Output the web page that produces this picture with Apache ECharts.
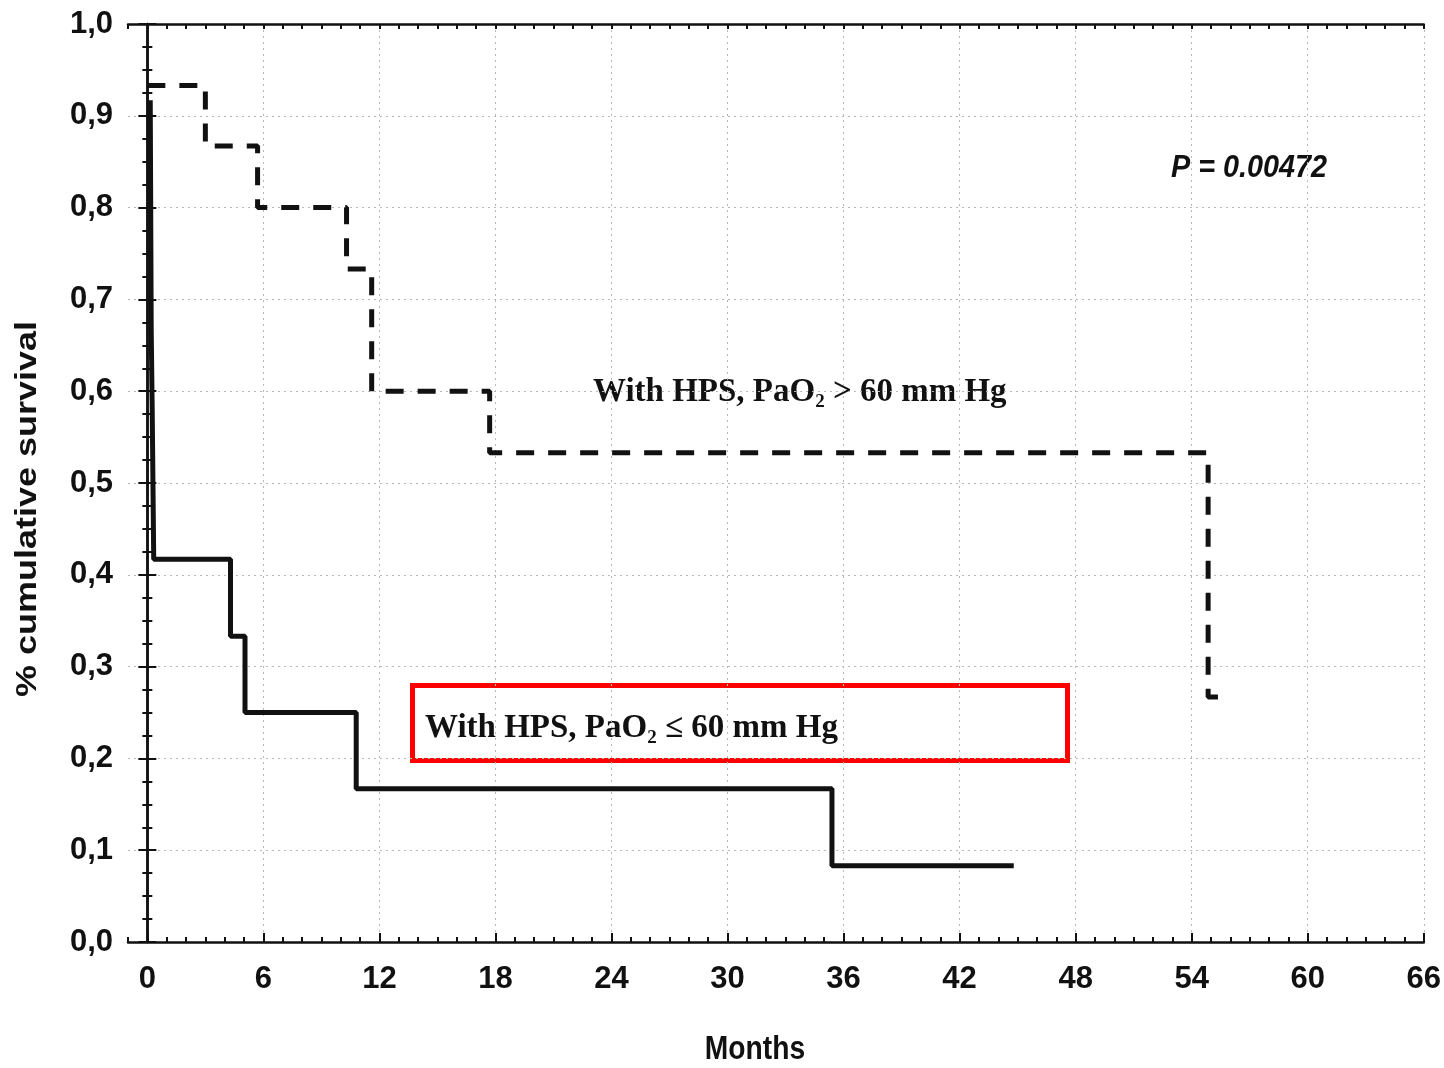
<!DOCTYPE html>
<html><head><meta charset="utf-8">
<script src="https://cdn.jsdelivr.net/npm/echarts@6/dist/echarts.min.js"></script>
<style>html,body{margin:0;padding:0;background:#fff}#c{width:1444px;height:1068px}</style>
</head><body><div id="c"></div><script>
// ---- data ----
const xTicks = [0, 6, 12, 18, 24, 30, 36, 42, 48, 54, 60, 66];
const yTicks = [0, 0.1, 0.2, 0.3, 0.4, 0.5, 0.6, 0.7, 0.8, 0.9, 1.0];
// PaO2 <= 60 mm Hg (solid) : survival holds from month[i] to month[i+1]
const lowMonths   = [0.15, 0.2, 0.25, 0.33, 4.3, 5.05, 10.8, 35.4, 44.8];
const lowSurvival = [0.917, 0.667, 0.583, 0.417, 0.333, 0.25, 0.167, 0.083, 0.083];
// PaO2 > 60 mm Hg (dashed)
const highMonths   = [0, 3.0, 5.7, 10.3, 11.6, 17.7, 54.85, 55.5];
const highSurvival = [0.933, 0.867, 0.8, 0.733, 0.6, 0.533, 0.267, 0.267];
const pText = 'P = 0.00472';
const highLabel = 'With HPS, PaO{s|2} > 60 mm Hg';
const lowLabel = 'With HPS, PaO{s|2} \u2264 60 mm Hg';
const yName = '% cumulative survival';
const xName = 'Months';

const sans = '"Liberation Sans", Arial, sans-serif';
const serif = '"Liberation Serif", "DejaVu Serif", serif';
const ink = '#111';
const gridLine = {show: true, lineStyle: {color: '#b8b8b8', width: 1, type: [2, 4]}};
const frame = {show: true, lineStyle: {color: ink, width: 2.5}};
const tickStyle = {color: ink, width: 2};

const chart = echarts.init(document.getElementById('c'), null, {renderer: 'canvas'});
const serifRich = {s: {fontFamily: serif, fontWeight: 'bold', fontSize: 19, verticalAlign: 'bottom', lineHeight: 16, fill: ink}};

chart.setOption({
  animation: false,
  backgroundColor: '#fff',
  grid: {left: 128, right: 20, top: 24, bottom: 126, containLabel: false},
  xAxis: [
    {type: 'value', min: -1, max: 66, position: 'bottom', axisLine: frame,
     axisTick: {show: true, inside: true, length: 9, customValues: xTicks, lineStyle: tickStyle},
     axisLabel: {customValues: xTicks, margin: 22, fontFamily: sans, fontWeight: 'bold', fontSize: 31, color: ink},
     splitLine: gridLine},
    {type: 'value', min: -1, max: 66, interval: 1, position: 'bottom', axisLine: {show: false},
     axisTick: {show: true, inside: true, length: 5, lineStyle: tickStyle},
     axisLabel: {show: false}, splitLine: {show: false}},
    {type: 'value', min: -1, max: 66, interval: 1, position: 'top', axisLine: frame,
     axisTick: {show: true, inside: true, length: 5, lineStyle: tickStyle},
     axisLabel: {show: false}, splitLine: {show: false}}
  ],
  yAxis: [
    {type: 'value', min: 0, max: 1, interval: 0.1, position: 'left', axisLine: frame,
     axisTick: {show: true, inside: true, length: 9, lineStyle: tickStyle},
     minorTick: {show: true, splitNumber: 4, length: 5, lineStyle: tickStyle},
     axisLabel: {customValues: yTicks, margin: 15, fontFamily: sans, fontWeight: 'bold', fontSize: 31, color: ink,
       formatter: v => v.toFixed(1).replace('.', ',')},
     splitLine: gridLine},
    {type: 'value', min: 0, max: 1, interval: 0.1, position: 'right', axisLine: frame,
     axisTick: {show: true, inside: true, length: 9, lineStyle: tickStyle},
     minorTick: {show: true, splitNumber: 4, length: 5, lineStyle: tickStyle},
     axisLabel: {show: false}, splitLine: {show: false}}
  ],
  series: [
    {type: 'line', name: 'PaO2 <= 60', xAxisIndex: 0, yAxisIndex: 0, step: 'end', symbol: 'none',
     data: lowMonths.map((m, i) => [m, lowSurvival[i]]),
     lineStyle: {color: ink, width: 5, cap: 'butt', join: 'bevel'}},
    {type: 'line', name: 'PaO2 > 60', xAxisIndex: 0, yAxisIndex: 0, step: 'end', symbol: 'none',
     data: highMonths.map((m, i) => [m, highSurvival[i]]),
     lineStyle: {color: ink, width: 5, type: [18, 14], cap: 'butt', join: 'bevel'}}
  ],
  graphic: [
    {type: 'text', x: 1249, y: 168, scaleX: 0.9, style: {text: pText, align: 'center', verticalAlign: 'middle',
      fontFamily: sans, fontWeight: 'bold', fontStyle: 'italic', fontSize: 32, fill: ink}},
    {type: 'text', x: 593, y: 392, style: {text: highLabel, align: 'left', verticalAlign: 'middle',
      fontFamily: serif, fontWeight: 'bold', fontSize: 33, lineHeight: 40, fill: ink, rich: serifRich}},
    {type: 'rect', shape: {x: 412.5, y: 685.5, width: 655, height: 75},
     style: {fill: 'none', stroke: '#f00', lineWidth: 5}},
    {type: 'text', x: 425, y: 728, style: {text: lowLabel, align: 'left', verticalAlign: 'middle',
      fontFamily: serif, fontWeight: 'bold', fontSize: 33, lineHeight: 40, fill: ink, rich: serifRich}},
    {type: 'text', x: 28, y: 509, rotation: Math.PI / 2, scaleX: 1.2, style: {text: yName, align: 'center', verticalAlign: 'middle',
      fontFamily: sans, fontWeight: 'bold', fontSize: 30, fill: ink}},
    {type: 'text', x: 755, y: 1050, scaleX: 0.83, style: {text: xName, align: 'center', verticalAlign: 'middle',
      fontFamily: sans, fontWeight: 'bold', fontSize: 34, fill: ink}}
  ]
});
</script></body></html>
